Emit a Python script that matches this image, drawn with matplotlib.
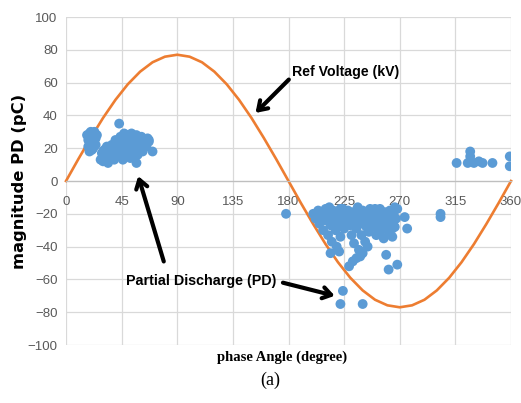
import matplotlib
matplotlib.use("Agg")
import matplotlib.pyplot as plt

# Reference voltage (kV) read every 10 degrees
ref_angle = [0, 10, 20, 30, 40, 50, 60, 70, 80, 90, 100, 110, 120, 130, 140, 150, 160, 170, 180,
             190, 200, 210, 220, 230, 240, 250, 260, 270, 280, 290, 300, 310, 320, 330, 340, 350, 360]
ref_volt = [0, 13.4, 26.3, 38.5, 49.5, 59.0, 66.7, 72.4, 75.8, 77.0, 75.8, 72.4, 66.7, 59.0, 49.5, 38.5, 26.3, 13.4, 0,
            -13.4, -26.3, -38.5, -49.5, -59.0, -66.7, -72.4, -75.8, -77.0, -75.8, -72.4, -66.7, -59.0, -49.5, -38.5, -26.3, -13.4, 0]

# Partial discharge points, positive half cycle
pd_pos_angle = [17, 18, 19, 20, 21, 22, 23, 24, 18, 20, 22, 24, 25, 19, 21,
                28, 29, 30, 31, 32, 33, 34, 35, 36, 37, 38, 39, 40, 41, 42, 43, 44, 45, 46, 47,
                48, 49, 50, 51, 52, 53, 54, 55, 56, 57, 58, 59, 60, 61, 62, 63, 64, 65, 66, 67,
                44, 47, 50, 53, 56, 40, 36, 33, 30, 46, 52, 58, 61,
                43, 57, 70, 67]
pd_pos_mag = [28, 25, 29, 23, 27, 20, 30, 26, 21, 30, 24, 22, 28, 18, 19,
              13, 17, 12, 19, 15, 21, 11, 17, 14, 22, 18, 13, 20, 16, 23, 19, 15, 24, 21, 17,
              26, 22, 19, 24, 27, 21, 16, 25, 22, 28, 20, 24, 26, 22, 18, 25, 23, 21, 26, 24,
              27, 29, 28, 29, 18, 25, 19, 16, 18, 13, 14, 16, 27,
              35, 11, 18, 25]

# Partial discharge points, negative half cycle
pd_neg_angle = [200, 202, 204, 205, 207, 208, 210, 210, 212, 213, 214, 215, 216, 217, 218, 219,
                220, 221, 222, 223, 224, 225, 226, 227, 228, 229, 230, 231, 232, 233, 234, 235,
                236, 237, 238, 239, 240, 241, 242, 243, 244, 245, 246, 247, 248, 249, 250, 251,
                252, 253, 254, 255, 256, 257, 258, 259, 260, 261, 262, 263, 264, 265, 266, 267,
                268, 264, 266, 250, 236, 222, 213, 244, 240, 235,
                214, 221, 229, 232, 238, 259, 261, 268, 224, 222, 240, 274, 276, 178, 303, 303]
pd_neg_mag = [-20, -23, -18, -26, -21, -30, -17, -24, -33, -20, -27, -37, -18, -23, -30, -40,
              -19, -26, -34, -22, -17, -29, -20, -24, -18, -22, -27, -33, -19, -38, -24, -29,
              -21, -42, -26, -33, -18, -23, -37, -28, -20, -31, -17, -25, -22, -19, -28, -33,
              -21, -26, -17, -30, -23, -35, -19, -27, -22, -31, -18, -25, -34, -20, -28, -23,
              -17, -29, -16, -17, -16, -17, -16, -40, -44, -47,
              -44, -43, -52, -49, -46, -45, -54, -51, -67, -75, -75, -22, -29, -20, -20, -22]

# Partial discharge points near end of cycle
pd_end_angle = [316, 327, 327, 325, 330, 334, 337, 345, 359, 359]
pd_end_mag = [11, 18, 15, 11, 11, 12, 11, 11, 15, 9]

x_ticks = [0, 45, 90, 135, 180, 225, 270, 315, 360]
y_ticks = [-100, -80, -60, -40, -20, 0, 20, 40, 60, 80, 100]

narrow = ['Liberation Sans Narrow', 'Liberation Sans', 'DejaVu Sans']

fig = plt.figure(figsize=(5.21, 4.03), dpi=100)
ax = fig.add_axes([0.1267, 0.1439, 0.8541, 0.8139])

ax.plot(ref_angle, ref_volt, color='#ED7D31', lw=1.9, zorder=2, clip_on=False)
ax.scatter(pd_pos_angle + pd_neg_angle + pd_end_angle,
           pd_pos_mag + pd_neg_mag + pd_end_mag,
           s=50, color='#5B9BD5', edgecolors='none', zorder=3)

ax.set_xlim(0, 360)
ax.set_ylim(-100, 100)
ax.set_xticks(x_ticks)
ax.set_yticks(y_ticks)
ax.grid(True, color='#d9d9d9', lw=0.9)
ax.set_axisbelow(True)
for s in ['top', 'right', 'left']:
    ax.spines[s].set_visible(False)
ax.spines['bottom'].set_position(('data', 0))
ax.spines['bottom'].set_color('#bfbfbf')
ax.spines['bottom'].set_linewidth(0.9)
ax.tick_params(axis='both', length=0, colors='#595959', labelsize=9.5)
ax.tick_params(axis='x', pad=11)
ax.tick_params(axis='y', pad=6)
for lab in ax.get_xticklabels() + ax.get_yticklabels():
    lab.set_family(narrow)

fig.text(0.038, 0.551, 'magnitude PD (pC)', rotation=90, ha='center', va='center',
         fontsize=11.8, fontweight='bold', family=['DejaVu Sans'])
fig.text(0.541, 0.114, 'phase Angle (degree)', ha='center', va='center',
         fontsize=10.5, fontweight='bold', family=['Liberation Serif'])
fig.text(0.5182, 0.055, '(a)', ha='center', va='center',
         fontsize=13, family=['Liberation Serif'])

arrow = dict(arrowstyle='->,head_length=0.6,head_width=0.4', lw=3, color='black',
             shrinkA=0, shrinkB=0)
ax.annotate('Ref Voltage (kV)', xy=(153.3, 41.5), xytext=(182.5, 66.5),
            fontsize=10.2, fontweight='bold', family=narrow, va='center', ha='left',
            arrowprops=dict(arrow, relpos=(-0.02, 0.0)))
ax.annotate('Partial Discharge (PD)', xy=(58.4, 3), xytext=(109.5, -61),
            fontsize=10.3, fontweight='bold', family=narrow, va='center', ha='center',
            arrowprops=dict(arrow, relpos=(0.25, 1.9)))
ax.annotate('', xy=(217.4, -70), xytext=(175.5, -62),
            arrowprops=arrow)

fig.savefig('out.png', dpi=100)
